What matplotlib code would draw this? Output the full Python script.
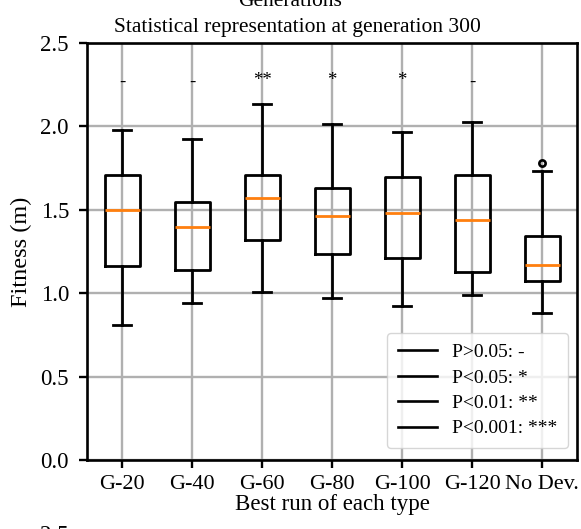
import matplotlib
matplotlib.use("Agg")
import matplotlib.pyplot as plt
from matplotlib.lines import Line2D

plt.rcParams['font.family'] = ['Liberation Serif', 'DejaVu Serif']

categories = ["G-20", "G-40", "G-60", "G-80", "G-100", "G-120", "No Dev."]
whislo = [0.81, 0.942, 1.006, 0.974, 0.924, 0.992, 0.882]
q1 = [1.162, 1.138, 1.318, 1.236, 1.212, 1.126, 1.072]
med = [1.500, 1.394, 1.573, 1.460, 1.480, 1.436, 1.172]
q3 = [1.709, 1.545, 1.709, 1.631, 1.699, 1.709, 1.342]
whishi = [1.977, 1.925, 2.137, 2.017, 1.967, 2.027, 1.731]
fliers = [[], [], [], [], [], [], [1.781]]
signif = ["-", "-", "**", "*", "*", "-", ""]
legend_labels = ["P>0.05: -", "P<0.05: *", "P<0.01: **", "P<0.001: ***"]

W, H = 581, 529
fig = plt.figure(figsize=(W / 100, H / 100), dpi=100)
ax_w, ax_h = 577 - 87, 460 - 43
ax = fig.add_axes([87 / W, 1 - 460 / H, ax_w / W, ax_h / H])

stats = []
for i, c in enumerate(categories):
    stats.append(dict(label=c, whislo=whislo[i], q1=q1[i], med=med[i],
                      q3=q3[i], whishi=whishi[i], fliers=fliers[i]))

lw = 2.0
ax.bxp(stats, positions=range(1, len(categories) + 1), widths=0.5,
       boxprops=dict(color='black', linewidth=lw),
       whiskerprops=dict(color='black', linewidth=lw),
       capprops=dict(color='black', linewidth=lw),
       medianprops=dict(color='#ff7f0e', linewidth=lw),
       flierprops=dict(marker='o', markerfacecolor='none', markeredgecolor='black',
                       markersize=4.5, markeredgewidth=1.9))

for i, s in enumerate(signif):
    if s:
        ax.text(i + 1, 2.275 if '*' in s else 2.265, s, ha='center', va='center',
                fontsize=13.5)

ax.set_ylim(0, 2.5)
ax.set_xlim(0.5, 7.5)
ax.set_yticks([0.0, 0.5, 1.0, 1.5, 2.0, 2.5])
ax.grid(True, color='#b0b0b0', linewidth=1.7)
ax.set_axisbelow(True)
for sp in ax.spines.values():
    sp.set_linewidth(1.9)
ax.tick_params(labelsize=16.5, width=1.7, length=6)
ax.tick_params(axis='x', pad=5)
ax.tick_params(axis='y', pad=7)
ax.set_xticklabels(categories, fontsize=16)
ax.set_ylabel("Fitness (m)", fontsize=17.5, labelpad=6)
ax.set_xlabel("Best run of each type", fontsize=16.5, labelpad=0)
ax.set_title("Statistical representation at generation 300", fontsize=15.5, pad=8,
             x=(297.5 - 87) / ax_w)

handles = [Line2D([0], [0], color='black', linewidth=1.9) for _ in legend_labels]
ax.legend(handles, legend_labels, loc='lower right', fontsize=14, framealpha=0.8,
          labelspacing=0.4, borderpad=0.55, borderaxespad=0,
          bbox_to_anchor=(1 - 9 / ax_w, 12 / ax_h))

fig.text(0.5, 1 - 6 / H, "Generations", ha='center', va='baseline', fontsize=15.5)

ax2 = fig.add_axes([87 / W, -0.6, ax_w / W, 0.6 - 4 / H])
ax2.set_ylim(0, 2.5)
ax2.set_yticks([2.5])
ax2.set_xticks([])
ax2.tick_params(labelsize=16.5, width=1.7, length=6, pad=7)
for sp in ax2.spines.values():
    sp.set_linewidth(1.9)

fig.savefig("out.png", dpi=100)
